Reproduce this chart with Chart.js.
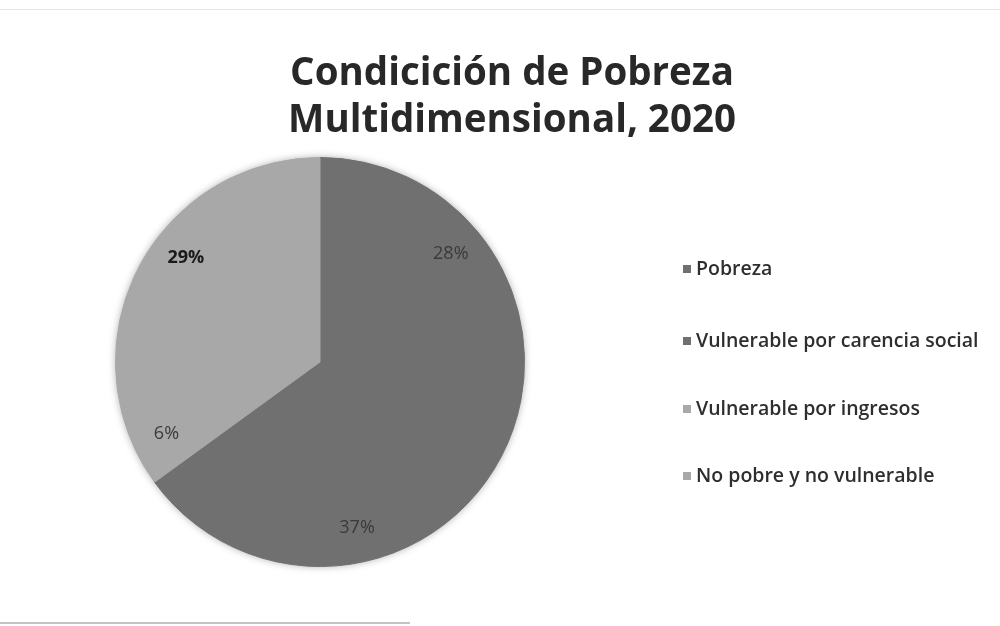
<!DOCTYPE html>
<html>
<head>
<meta charset="utf-8">
<script src="https://cdn.jsdelivr.net/npm/chart.js@4"></script>
<style>
  html, body { margin: 0; padding: 0; background: #ffffff; }
  #wrap { width: 1000px; height: 626px; position: relative; }
  .scan-top { position: absolute; left: 0; top: 9px; width: 1000px; height: 1px; background: #e6e6e6; }
  .scan-bottom { position: absolute; left: 0; top: 622px; width: 410px; height: 2px; background: #c4c4c4; }
</style>
</head>
<body>
<div id="wrap">
  <canvas id="pieChart" width="1000" height="626"></canvas>
  <div class="scan-top"></div>
  <div class="scan-bottom"></div>
</div>
<script>
const categories = ['Pobreza', 'Vulnerable por carencia social', 'Vulnerable por ingresos', 'No pobre y no vulnerable'];
const shares = [28, 37, 6, 29];
const sliceColors = ['#707070', '#707070', '#a8a8a8', '#a8a8a8'];
const titleLines = ['Condicición de Pobreza', 'Multidimensional, 2020'];

// title across the whole page, not only over the pie
const pageTitle = {
  id: 'pageTitle',
  afterDraw(chart) {
    const ctx = chart.ctx;
    ctx.save();
    ctx.font = 'bold 38.5px "Open Sans"';
    ctx.fillStyle = '#282828';
    ctx.textAlign = 'center';
    ctx.textBaseline = 'middle';
    ctx.fillText(titleLines[0], 512, 74);
    ctx.fillText(titleLines[1], 512, 121);
    ctx.restore();
  }
};

// percent labels inside each slice
const sliceLabels = {
  id: 'sliceLabels',
  afterDatasetsDraw(chart) {
    const ctx = chart.ctx;
    const meta = chart.getDatasetMeta(0);
    ctx.save();
    ctx.textAlign = 'center';
    ctx.textBaseline = 'middle';
    meta.data.forEach((arc, i) => {
      const mid = (arc.startAngle + arc.endAngle) / 2;
      const r = arc.outerRadius * 0.83;
      const x = arc.x + Math.cos(mid) * r;
      const y = arc.y + Math.sin(mid) * r;
      ctx.font = i === 3 ? 'bold 18px "Open Sans"' : '18px "Open Sans"';
      ctx.fillStyle = i === 3 ? '#1a1a1a' : '#3a3a3a';
      ctx.fillText(shares[i] + '%', x, y);
    });
    ctx.restore();
  }
};

// one soft shadow disc behind the whole pie
const pieShadow = {
  id: 'pieShadow',
  beforeDatasetsDraw(chart) {
    const arc = chart.getDatasetMeta(0).data[0];
    if (!arc) return;
    const ctx = chart.ctx;
    ctx.save();
    ctx.shadowColor = 'rgba(0,0,0,0.4)';
    ctx.shadowBlur = 9;
    ctx.fillStyle = '#8c8c8c';
    ctx.beginPath();
    ctx.arc(arc.x, arc.y, arc.outerRadius - 1, 0, Math.PI * 2);
    ctx.fill();
    ctx.restore();
  }
};

// legend on the right, drawn from the chart data
const sideLegend = {
  id: 'sideLegend',
  afterDraw(chart) {
    const ctx = chart.ctx;
    const rows = [269, 341, 409, 476];
    ctx.save();
    ctx.font = '600 19.5px "Open Sans"';
    ctx.textBaseline = 'middle';
    chart.data.labels.forEach((label, i) => {
      ctx.fillStyle = chart.data.datasets[0].backgroundColor[i];
      ctx.fillRect(683, rows[i] - 4, 8, 8);
      ctx.fillStyle = '#2e2e2e';
      ctx.fillText(label, 696, rows[i]);
    });
    ctx.restore();
  }
};

new Chart(document.getElementById('pieChart'), {
  type: 'pie',
  data: {
    labels: categories,
    datasets: [{
      data: shares,
      backgroundColor: sliceColors,
      borderColor: sliceColors,
      borderWidth: 1
    }]
  },
  options: {
    responsive: false,
    animation: false,
    layout: {
      padding: { left: 80, right: 440, top: 157, bottom: 59 }
    },
    plugins: {
      legend: { display: false },
      tooltip: { enabled: false },
      title: { display: false }
    }
  },
  plugins: [pieShadow, sliceLabels, sideLegend, pageTitle]
});
</script>
</body>
</html>
